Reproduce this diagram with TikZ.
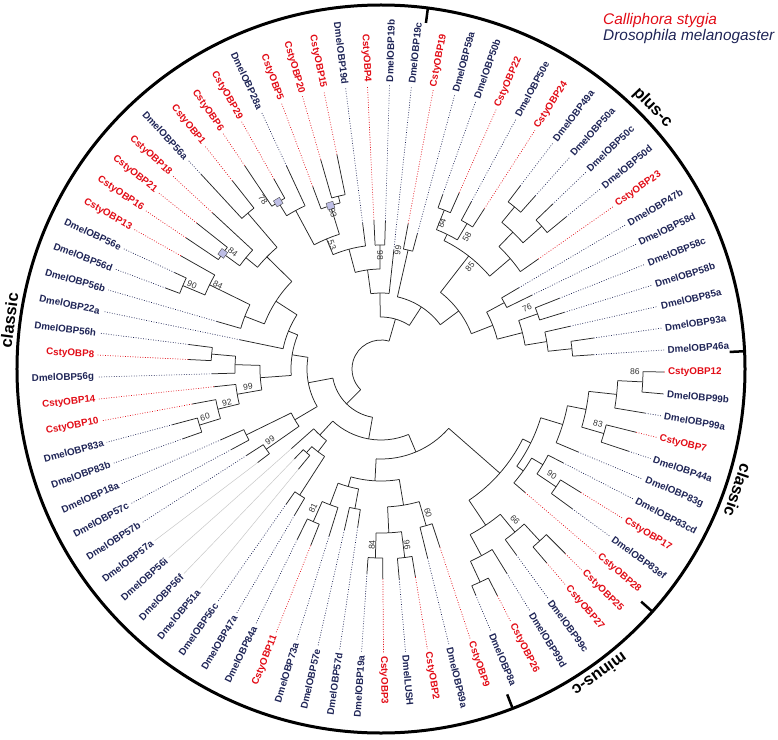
\documentclass[tikz,border=0pt]{standalone}
\usepackage{fontspec}
\setmainfont{Liberation Sans}
\definecolor{cred}{RGB}{226,12,22}
\definecolor{cnavy}{RGB}{30,36,86}
\newcommand\ang[1]{(79.4-((#1)-1)*4.4444)}
\newcommand\lf[4]{\draw[br] ({\ang{#1}}:#2pt) -- ({\ang{#1}}:#3pt);\draw[dl,#4] ({\ang{#1}}:#3pt) -- ({\ang{#1}}:284pt);}
\newcommand\nd[4]{\draw[br] ({\ang{((#1)+(#2))/2}}:#4pt) -- ({\ang{((#1)+(#2))/2}}:#3pt);\draw[br] ({\ang{#1}}:#3pt) arc[start angle={\ang{#1}},end angle={\ang{#2}},radius=#3pt];}
\newcommand\labR[4]{\node[lbl,text=#4,anchor=west,rotate={\ang{#1}}] (#2) at ({\ang{#1}}:287pt) {#3};}
\newcommand\labL[4]{\node[lbl,text=#4,anchor=east,rotate={\ang{#1}+180}] (#2) at ({\ang{#1}}:287pt) {#3};}
\begin{document}
\begin{tikzpicture}[x=1pt,y=1pt,
  br/.style={line width=0.75pt,black!85},
  dl/.style={line width=0.7pt,dash pattern=on 0.8pt off 1.7pt},
  lgl/.style={solid,line width=0.5pt,black!22},
  lbl/.style={font=\bfseries\fontsize{9.8}{10}\selectfont,inner sep=0pt},
  sup/.style={font=\fontsize{8.5}{9}\selectfont,text=black!80,inner sep=0pt},
  gsq/.style={draw=black!70,fill=gray!55!blue!35,minimum size=7pt,inner sep=0pt,line width=0.4pt},
  seg/.style={font=\bfseries\fontsize{16.5}{17}\selectfont,inner sep=0pt}]
\useasboundingbox (-381,-370) rectangle (397,369);
% outer ring and ticks
\draw[line width=3pt] (0,0) circle[radius=364pt];
\draw[line width=2.5pt] (82.6:365pt) -- (82.6:349pt);
\draw[line width=2.5pt] (2.8:365pt) -- (2.8:349pt);
\draw[line width=2.5pt] (-41.8:365pt) -- (-41.8:349pt);
\draw[line width=2.5pt] (-68.8:365pt) -- (-68.8:349pt);
\node[seg,rotate=-46.1] (gplus) at (43.9:377pt) {plus-c};
\node[seg,rotate=-108.8] (gclr) at (-18.8:377pt) {classic};
\node[seg,rotate=-144.4] (gminus) at (-54.4:376pt) {minus-c};
\node[seg,rotate=82.5] (gcll) at (172.5:375pt) {classic};
% legend
\node[anchor=base west,inner sep=0pt,font=\itshape\fontsize{15.4}{16}\selectfont,text=cred] (leg1) at (222,344) {Calliphora stygia};
\node[anchor=base west,inner sep=0pt,font=\itshape\fontsize{15.4}{16}\selectfont,text=cnavy] (leg2) at (222,328) {Drosophila melanogaster};
% ---------- tree ----------
\draw[br] ({\ang{2.2421875}}:29pt) arc[start angle={\ang{2.2421875}},end angle={\ang{49.158203125}+360},radius=29pt];
% top-left clade
\lf{0}{76}{120}{cnavy}
\lf{-1}{124}{148}{cnavy}
\lf{-2}{124}{149}{cred}
\lf{-3}{124}{147}{cnavy}
\lf{-4}{178}{219}{cred}
\lf{-5}{178}{218}{cred}
\lf{-6}{171}{195}{cred}
\lf{-7}{180}{224}{cnavy}
\lf{-8}{196}{218}{cred}
\lf{-9}{196}{245}{cred}
\nd{-1}{-2}{124}{100}
\nd{-4}{-5}{178}{171}
\nd{-6}{-4.5}{171}{141}
\nd{-8}{-9}{196}{180}
\nd{-8.5}{-7}{180}{141}
\nd{-7.75}{-5.25}{141}{124}
\nd{-6.5}{-3}{124}{100}
\nd{-4.75}{-1.5}{100}{76}
\nd{-3.125}{0}{76}{52}
% plus-c clade
\lf{1}{122}{148}{cred}
\lf{2}{122}{140}{cnavy}
\nd{1}{2}{122}{74}
\lf{3}{171}{185}{cnavy}
\lf{4}{171}{193}{cred}
\nd{3}{4}{171}{150}
\lf{5}{169}{190}{cnavy}
\lf{6}{169}{191}{cred}
\nd{5}{6}{169}{150}
\nd{3.5}{5.5}{150}{143}
\lf{7}{210}{230}{cnavy}
\lf{8}{210}{232}{cnavy}
\nd{7}{8}{210}{190}
\lf{9}{215}{238}{cnavy}
\lf{10}{215}{240}{cnavy}
\nd{9}{10}{215}{190}
\nd{7.5}{9.5}{190}{170}
\lf{11}{170}{192}{cred}
\nd{8.5}{11}{170}{143}
\nd{4.5}{9.75}{143}{97}
\lf{12}{140}{160}{cnavy}
\lf{13}{140}{168}{cnavy}
\nd{12}{13}{140}{120}
\lf{14}{166}{192}{cnavy}
\lf{15}{166}{192}{cnavy}
\nd{14}{15}{166}{146}
\lf{16}{168}{194}{cnavy}
\lf{17}{192}{215}{cnavy}
\lf{18}{192}{213}{cnavy}
\nd{17}{18}{192}{168}
\nd{16}{17.5}{168}{146}
\nd{14.5}{16.75}{146}{120}
\nd{12.5}{15.625}{120}{97}
\nd{7.125}{14.0625}{97}{74}
\nd{1.5}{10.59375}{74}{52}
\nd{-1.5625}{6.046875}{52}{29}
% left clade X
\lf{60}{170}{193}{cred}
\lf{61}{170}{194}{cnavy}
\nd{60}{61}{170}{146}
\lf{59}{146}{169}{cnavy}
\nd{59}{60.5}{146}{121}
\lf{55}{190}{210}{cnavy}
\lf{56}{190}{216}{cnavy}
\nd{55}{56}{190}{168}
\lf{57}{168}{192}{cred}
\nd{55.5}{57}{168}{146}
\lf{58}{146}{168}{cred}
\nd{56.25}{58}{146}{121}
\nd{57.125}{59.75}{121}{90}
\lf{64}{215}{230}{cnavy}
\lf{65}{215}{228}{cnavy}
\nd{64}{65}{215}{191}
\lf{66}{191}{230}{cred}
\nd{64.5}{66}{191}{146}
\lf{63}{146}{171}{cnavy}
\nd{63}{65.25}{146}{125}
\lf{67}{196}{235}{cred}
\lf{68}{196}{235}{cred}
\nd{67}{68}{196}{175}
\lf{69}{175}{230}{cred}
\nd{67.5}{69}{175}{160}
\lf{70}{205}{265}{cnavy}
\lf{71}{205}{240}{cred}
\nd{70}{71}{205}{160}
\nd{68.25}{70.5}{160}{125}
\nd{64.125}{69.375}{125}{100}
\lf{62}{100}{144}{cnavy}
\nd{62}{66.75}{100}{90}
\nd{58.4375}{64.375}{90}{74}
% Y1
\lf{51}{140}{155}{lgl}
\lf{52}{140}{160}{cnavy}
\nd{51}{52}{140}{100}
\lf{53}{150}{170}{cnavy}
\lf{54}{150}{175}{cnavy}
\nd{53}{54}{150}{100}
\nd{51.5}{53.5}{100}{74}
\nd{52.5}{61.40625}{74}{49}
% Y2
\lf{46}{150}{170}{cnavy}
\lf{47}{150}{165}{cnavy}
\nd{46}{47}{150}{104}
\lf{48}{112}{130}{lgl}
\lf{49}{112}{125}{lgl}
\nd{48}{49}{112}{104}
\nd{46.5}{48.5}{104}{90}
\lf{50}{90}{120}{lgl}
\nd{47.5}{50}{90}{71}
% W
\lf{35}{163}{188}{cred}
\lf{36}{163}{195}{cnavy}
\nd{35}{36}{163}{138}
\lf{37}{190}{211}{cred}
\lf{38}{190}{211}{cnavy}
\nd{37}{38}{190}{164}
\lf{39}{189}{210}{cred}
\lf{40}{189}{205}{cnavy}
\nd{39}{40}{189}{164}
\nd{37.5}{39.5}{164}{138}
\nd{35.5}{38.5}{138}{112}
\lf{44}{167}{190}{cred}
\lf{45}{167}{190}{cnavy}
\nd{44}{45}{167}{145}
\lf{43}{145}{175}{cnavy}
\nd{43}{44.5}{145}{122}
\lf{41}{142}{160}{cnavy}
\lf{42}{142}{165}{cnavy}
\nd{41}{42}{142}{122}
\nd{41.5}{43.75}{122}{112}
\nd{37}{42.625}{112}{90}
% R (classic right)
\lf{19}{262}{283}{cred}
\lf{20}{262}{283}{cnavy}
\nd{19}{20}{262}{237}
\lf{21}{237}{268}{cnavy}
\nd{19.5}{21}{237}{209}
\lf{22}{232}{263}{cred}
\lf{23}{232}{261}{cnavy}
\nd{22}{23}{232}{209}
\nd{20.25}{22.5}{209}{190}
\lf{24}{190}{214}{cnavy}
\nd{21.375}{24}{190}{167}
\lf{26}{211}{235}{cred}
\lf{27}{211}{237}{cnavy}
\nd{26}{27}{211}{188}
\lf{25}{188}{205}{cnavy}
\nd{25}{26.5}{188}{175}
\lf{28}{175}{190}{cred}
\nd{25.75}{28}{175}{167}
\nd{22.6875}{26.875}{167}{158}
% minus-c
\lf{29}{234}{261}{cred}
\lf{30}{234}{255}{cred}
\nd{29}{30}{234}{211}
\lf{31}{211}{230}{cnavy}
\nd{29.5}{31}{211}{188}
\lf{33}{235}{255}{cred}
\lf{34}{235}{245}{cnavy}
\nd{33}{34}{235}{212}
\lf{32}{212}{240}{cnavy}
\nd{32}{33.5}{212}{188}
\nd{30.25}{32.75}{188}{158}
\nd{24.78125}{31.5}{158}{90}
\nd{28.140625}{39.8125}{90}{71}
\nd{33.9765625}{48.75}{71}{49}
\nd{41.36328125}{56.953125}{49}{29}
% grey squares
\node[gsq,rotate={\ang{-8.5}}] (g78) at ({\ang{-8.5}}:196pt) {};
\node[gsq,rotate={\ang{-5.25}}] (g93) at ({\ang{-5.25}}:171pt) {};
\node[gsq,rotate={\ang{67.5}}] (g84) at ({\ang{67.5}}:196pt) {};
% support values
\node[sup,rotate=-55] (s1) at (-118,169) {78};
\node[sup,rotate=-73] (s2) at (-48,156) {93};
\node[sup,rotate=-68] (s3) at (-49,124) {53};
\node[sup,rotate=-38] (s4) at (-148,117) {84};
\node[sup,rotate=-89.5] (s5) at (-1,114) {98};
\node[sup,rotate=82] (s6) at (17,119) {99};
\node[sup,rotate=67] (s7) at (61,146) {84};
\node[sup,rotate=57] (s8) at (86,132) {58};
\node[sup,rotate=49] (s9) at (89,102) {85};
\node[sup,rotate=23] (s10) at (146,61) {76};
\node[sup,rotate=-24] (s11) at (-189,84) {90};
\node[sup,rotate=-27] (s12) at (-163,84) {84};
\node[sup,rotate=8] (s13) at (-133,-18) {99};
\node[sup,rotate=12] (s14) at (-154,-34) {92};
\node[sup,rotate=15] (s15) at (-176,-48) {60};
\node[sup,rotate=33] (s16) at (-111,-71) {99};
\node[sup,rotate=-1] (s17) at (254,-3) {86};
\node[sup,rotate=-14] (s18) at (217,-55) {83};
\node[sup,rotate=-32] (s19) at (171,-106) {90};
\node[sup,rotate=-48] (s20) at (134,-151) {66};
\node[sup,rotate=-72] (s21) at (47,-144) {60};
\node[sup,rotate=-82] (s22) at (26,-176) {96};
\node[sup,rotate=87] (s23) at (-9,-176) {84};
\node[sup,rotate=64] (s24) at (-68,-139) {81};
% ---------- leaf labels ----------
\labR{1}{L1}{CstyOBP19}{cred}
\labR{2}{L2}{DmelOBP59a}{cnavy}
\labR{3}{L3}{DmelOBP50b}{cnavy}
\labR{4}{L4}{CstyOBP22}{cred}
\labR{5}{L5}{DmelOBP50e}{cnavy}
\labR{6}{L6}{CstyOBP24}{cred}
\labR{7}{L7}{DmelOBP49a}{cnavy}
\labR{8}{L8}{DmelOBP50a}{cnavy}
\labR{9}{L9}{DmelOBP50c}{cnavy}
\labR{10}{L10}{DmelOBP50d}{cnavy}
\labR{11}{L11}{CstyOBP23}{cred}
\labR{12}{L12}{DmelOBP47b}{cnavy}
\labR{13}{L13}{DmelOBP58d}{cnavy}
\labR{14}{L14}{DmelOBP58c}{cnavy}
\labR{15}{L15}{DmelOBP58b}{cnavy}
\labR{16}{L16}{DmelOBP85a}{cnavy}
\labR{17}{L17}{DmelOBP93a}{cnavy}
\labR{18}{L18}{DmelOBP46a}{cnavy}
\labR{19}{L19}{CstyOBP12}{cred}
\labR{20}{L20}{DmelOBP99b}{cnavy}
\labR{21}{L21}{DmelOBP99a}{cnavy}
\labR{22}{L22}{CstyOBP7}{cred}
\labR{23}{L23}{DmelOBP44a}{cnavy}
\labR{24}{L24}{DmelOBP83g}{cnavy}
\labR{25}{L25}{DmelOBP83cd}{cnavy}
\labR{26}{L26}{CstyOBP17}{cred}
\labR{27}{L27}{DmelOBP83ef}{cnavy}
\labR{28}{L28}{CstyOBP28}{cred}
\labR{29}{L29}{CstyOBP25}{cred}
\labR{30}{L30}{CstyOBP27}{cred}
\labR{31}{L31}{DmelOBP99c}{cnavy}
\labR{32}{L32}{DmelOBP99d}{cnavy}
\labR{33}{L33}{CstyOBP26}{cred}
\labR{34}{L34}{DmelOBP8a}{cnavy}
\labR{35}{L35}{CstyOBP9}{cred}
\labR{36}{L36}{DmelOBP69a}{cnavy}
\labR{37}{L37}{CstyOBP2}{cred}
\labR{38}{L38}{DmelLUSH}{cnavy}
\labR{39}{L39}{CstyOBP3}{cred}
\labL{40}{L40}{DmelOBP19a}{cnavy}
\labL{41}{L41}{DmelOBP57d}{cnavy}
\labL{42}{L42}{DmelOBP57e}{cnavy}
\labL{43}{L43}{DmelOBP73a}{cnavy}
\labL{44}{L44}{CstyOBP11}{cred}
\labL{45}{L45}{DmelOBP84a}{cnavy}
\labL{46}{L46}{DmelOBP47a}{cnavy}
\labL{47}{L47}{DmelOBP56c}{cnavy}
\labL{48}{L48}{DmelOBP51a}{cnavy}
\labL{49}{L49}{DmelOBP56f}{cnavy}
\labL{50}{L50}{DmelOBP56i}{cnavy}
\labL{51}{L51}{DmelOBP57a}{cnavy}
\labL{52}{L52}{DmelOBP57b}{cnavy}
\labL{53}{L53}{DmelOBP57c}{cnavy}
\labL{54}{L54}{DmelOBP18a}{cnavy}
\labL{55}{L55}{DmelOBP83b}{cnavy}
\labL{56}{L56}{DmelOBP83a}{cnavy}
\labL{57}{L57}{CstyOBP10}{cred}
\labL{58}{L58}{CstyOBP14}{cred}
\labL{59}{L59}{DmelOBP56g}{cnavy}
\labL{60}{L60}{CstyOBP8}{cred}
\labL{61}{L61}{DmelOBP56h}{cnavy}
\labL{62}{L62}{DmelOBP22a}{cnavy}
\labL{63}{L63}{DmelOBP56b}{cnavy}
\labL{64}{L64}{DmelOBP56d}{cnavy}
\labL{65}{L65}{DmelOBP56e}{cnavy}
\labL{66}{L66}{CstyOBP13}{cred}
\labL{67}{L67}{CstyOBP16}{cred}
\labL{68}{L68}{CstyOBP21}{cred}
\labL{69}{L69}{CstyOBP18}{cred}
\labL{70}{L70}{DmelOBP56a}{cnavy}
\labL{71}{L71}{CstyOBP1}{cred}
\labL{-9}{L72}{CstyOBP6}{cred}
\labL{-8}{L73}{CstyOBP29}{cred}
\labL{-7}{L74}{DmelOBP28a}{cnavy}
\labL{-6}{L75}{CstyOBP5}{cred}
\labL{-5}{L76}{CstyOBP20}{cred}
\labL{-4}{L77}{CstyOBP15}{cred}
\labL{-3}{L78}{DmelOBP19d}{cnavy}
\labL{-2}{L79}{CstyOBP4}{cred}
\labR{-1}{L80}{DmelOBP19b}{cnavy}
\labR{0}{L81}{DmelOBP19c}{cnavy}
\end{tikzpicture}
\end{document}
